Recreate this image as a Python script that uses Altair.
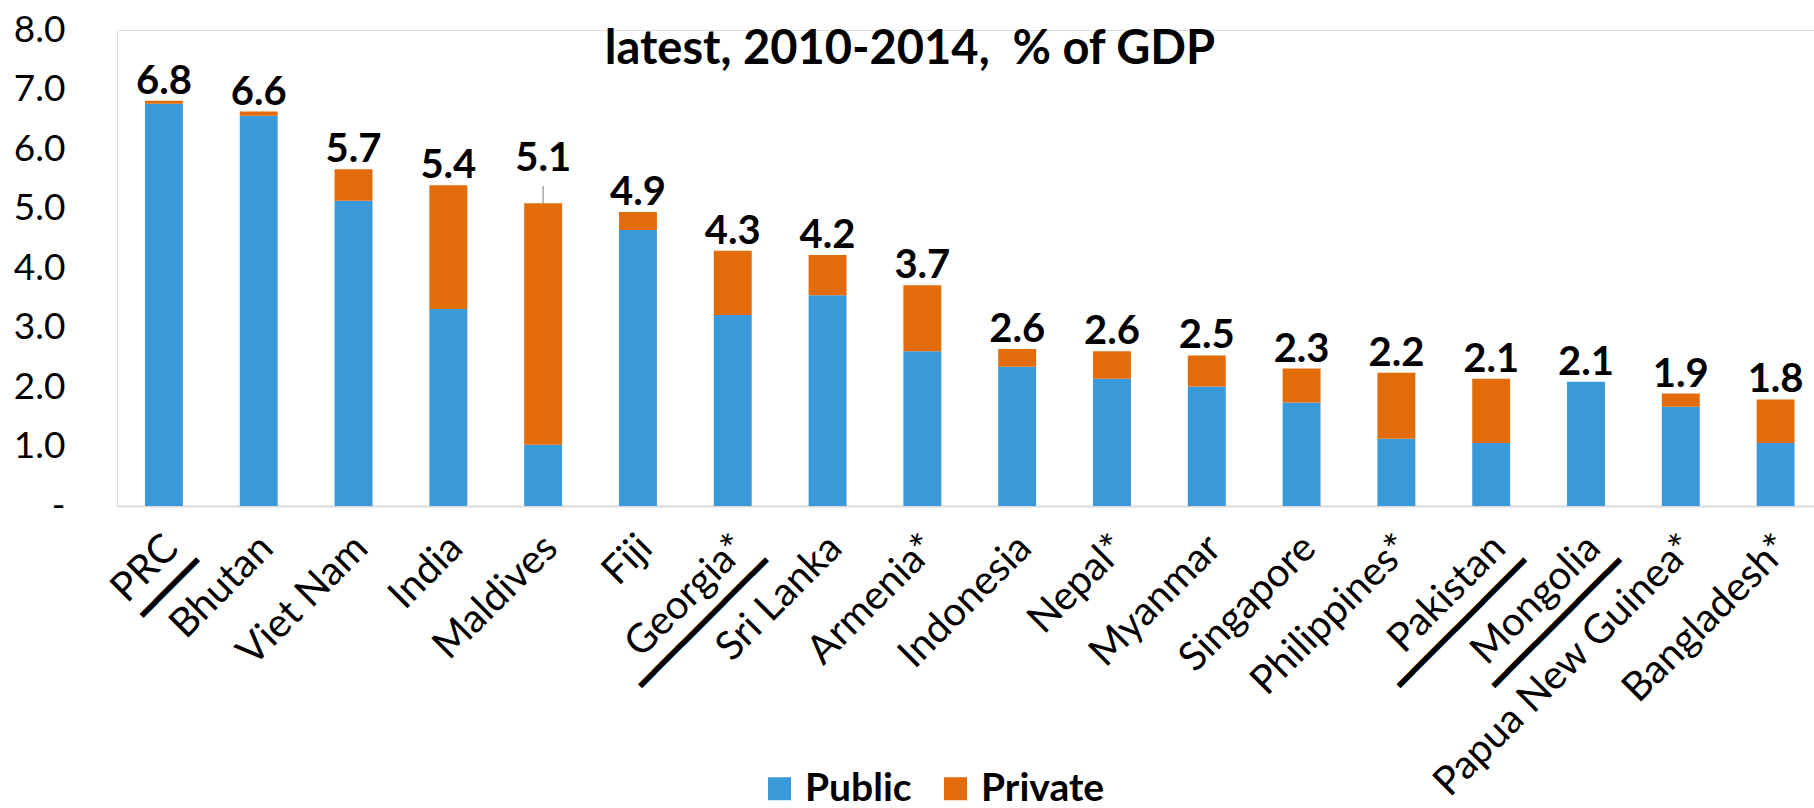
import altair as alt
import pandas as pd

# ---- data ----
countries = ["PRC", "Bhutan", "Viet Nam", "India", "Maldives", "Fiji", "Georgia*",
             "Sri Lanka", "Armenia*", "Indonesia", "Nepal*", "Myanmar", "Singapore",
             "Philippines*", "Pakistan", "Mongolia", "Papua New Guinea*", "Bangladesh*"]
public = [6.76, 6.56, 5.13, 3.31, 1.03, 4.64, 3.21, 3.54, 2.60, 2.34, 2.14, 2.01,
          1.74, 1.13, 1.06, 2.09, 1.67, 1.06]
private = [0.05, 0.07, 0.53, 2.08, 4.06, 0.30, 1.08, 0.68, 1.11, 0.30, 0.46, 0.52,
           0.57, 1.11, 1.08, 0.00, 0.22, 0.73]
labels = ["6.8", "6.6", "5.7", "5.4", "5.1", "4.9", "4.3", "4.2", "3.7", "2.6", "2.6",
          "2.5", "2.3", "2.2", "2.1", "2.1", "1.9", "1.8"]
underlined = ["PRC", "Georgia*", "Pakistan", "Mongolia"]
leader_countries = ["Maldives"]
series = ["Public", "Private"]
colors = ["#3A99D8", "#E36C0A"]
y_ticks = [0, 1, 2, 3, 4, 5, 6, 7, 8]
title_text = "latest, 2010-2014,\u00a0 % of GDP"

# ---- layout constants ----
W, H = 1697, 476
LEADER_LIFT = 0.42
LEADER_LEN = 0.29
FONT = "Lato"

rows = []
for c, pu, pr in zip(countries, public, private):
    rows.append({"country": c, "series": "Public", "value": pu, "ord": 0})
    rows.append({"country": c, "series": "Private", "value": pr, "ord": 1})
df = pd.DataFrame(rows)

tot = pd.DataFrame({"country": countries, "label": labels,
                    "total": [a + b for a, b in zip(public, private)]})
tot["lift"] = [LEADER_LIFT if c in leader_countries else 0.0 for c in countries]
tot["ypos"] = tot["total"] + tot["lift"]

lead = tot[tot["country"].isin(leader_countries)].copy()
lead["top"] = lead["total"] + LEADER_LEN

lab = pd.DataFrame({"country": countries})
und = pd.DataFrame({"country": underlined,
                    "line": ["\u2501" * (len(c) + 1) for c in underlined]})

xenc = alt.X("country:N", sort=countries,
             scale=alt.Scale(paddingInner=0.6, paddingOuter=0.25, align=0.59),
             axis=alt.Axis(labels=False, ticks=False, title=None,
                           domainColor="#d9d9d9", domainWidth=2))

bars = alt.Chart(df).mark_bar().encode(
    x=xenc,
    y=alt.Y("value:Q", stack="zero",
            scale=alt.Scale(domain=[0, 8], nice=False),
            axis=alt.Axis(values=y_ticks, grid=False, domain=False, ticks=False,
                          tickSize=0, labelPadding=52, labelFont=FONT,
                          labelFontSize=37, labelColor="black", title=None,
                          labelExpr="datum.value == 0 ? '-\u2007' : format(datum.value, '.1f')")),
    color=alt.Color("series:N", scale=alt.Scale(domain=series, range=colors),
                    legend=alt.Legend(orient="none", legendX=643, legendY=739,
                                      direction="horizontal", title=None,
                                      symbolType="square", symbolSize=529,
                                      symbolStrokeWidth=0, labelFont=FONT,
                                      labelFontWeight="bold", labelFontSize=39,
                                      labelColor="black", labelOffset=6,
                                      columnPadding=24)),
    order=alt.Order("ord:Q"),
)

leader = alt.Chart(lead).mark_rule(color="#a6a6a6", strokeWidth=1.5).encode(
    x=alt.X("country:N", sort=countries),
    y=alt.Y("total:Q"),
    y2="top:Q",
)

vals = alt.Chart(tot).mark_text(font=FONT, fontWeight="bold", fontSize=40,
                                baseline="alphabetic", dy=-7, color="black").encode(
    x=alt.X("country:N", sort=countries),
    y=alt.Y("ypos:Q"),
    text="label:N",
)

xlabels = alt.Chart(lab).mark_text(font=FONT, fontSize=40, angle=315, align="right",
                                   baseline="middle", color="black", xOffset=8).encode(
    x=alt.X("country:N", sort=countries),
    y=alt.value(H + 36),
    text="country:N",
)

ulines = alt.Chart(und).mark_text(font="DejaVu Sans Mono", fontSize=33, angle=315,
                                  align="right", baseline="middle", color="black",
                                  xOffset=8, dx=6, dy=32).encode(
    x=alt.X("country:N", sort=countries),
    y=alt.value(H + 36),
    text="line:N",
)

title = alt.Chart(pd.DataFrame({"t": [title_text]})).mark_text(
    font=FONT, fontWeight="bold", fontSize=47, align="center",
    baseline="alphabetic", color="black").encode(
    x=alt.value(793), y=alt.value(34), text="t:N")

chart = alt.layer(bars, leader, vals, xlabels, ulines, title).properties(
    width=W, height=H, autosize="none",
    padding={"left": 117, "top": 30, "right": 0, "bottom": 302},
).configure_view(stroke=None).configure(background="white")

chart.save("out.html", embed_options={"renderer": "svg", "actions": False})
